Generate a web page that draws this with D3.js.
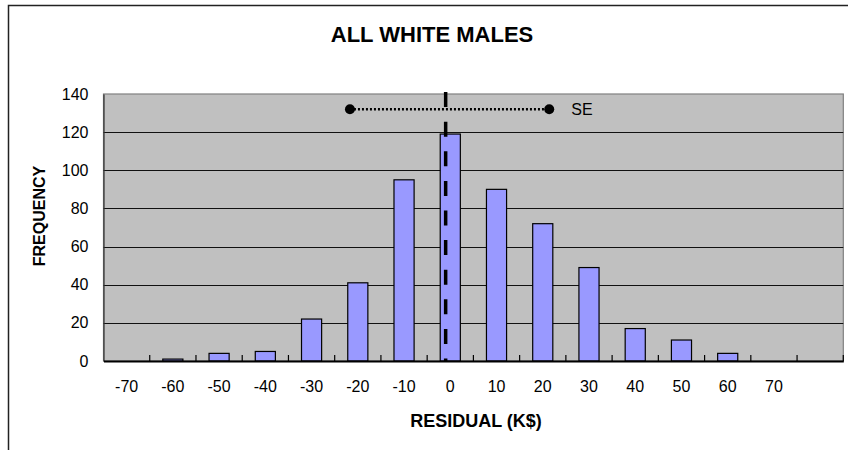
<!DOCTYPE html>
<html>
<head>
<meta charset="utf-8">
<script src="https://cdn.jsdelivr.net/npm/d3@7"></script>
<style>
  body { margin: 0; background: #fff; }
  svg { display: block; font-family: "Liberation Sans", Arial, sans-serif; }
</style>
</head>
<body>
<svg id="chart" width="848" height="450"></svg>
<script>
// ---- data ----
const categories = ["-70","-60","-50","-40","-30","-20","-10","0","10","20","30","40","50","60","70",""];
const frequency  = [0, 1, 4, 5, 22, 41, 95, 119, 90, 72, 49, 17, 11, 4, 0, 0];
const yTicks = [0, 20, 40, 60, 80, 100, 120, 140];
const meanResidual = -1;      // dashed vertical line (K$)
const meanLineTop = 141;      // frequency units
const seEnds = [-21.7, 21.4]; // SE bar ends (K$)
const seLevel = 132;          // frequency units
const seLabel = "SE";
const title = "ALL WHITE MALES";
const xTitle = "RESIDUAL (K$)";
const yTitle = "FREQUENCY";

// ---- layout ----
const W = 848, H = 450;
const plot = { left: 103.5, right: 843.3, top: 94, bottom: 361 };
const svg = d3.select("#chart");

// outer chart border
svg.append("rect").attr("x", 8.5).attr("y", 5.5).attr("width", 900).attr("height", 500)
  .attr("fill", "#fff").attr("stroke", "#222").attr("stroke-width", 1.5);

const xSlot = d3.scaleBand().domain(categories).range([plot.left, plot.right]).padding(0);
const xBar = d3.scaleBand().domain(categories).range([plot.left, plot.right])
  .paddingInner(0.565).paddingOuter(0.2825);
const xLin = d3.scaleLinear().domain([-75, 85]).range([plot.left, plot.right]);
const y = d3.scaleLinear().domain([0, 140]).range([plot.bottom, plot.top]);

// plot background
svg.append("rect").attr("x", plot.left).attr("y", plot.top)
  .attr("width", plot.right - plot.left).attr("height", plot.bottom - plot.top)
  .attr("fill", "#C0C0C0").attr("stroke", "#808080").attr("stroke-width", 1.2);

// gridlines
svg.append("g").selectAll("line").data(yTicks.filter(d => d > 0 && d < 140)).join("line")
  .attr("x1", plot.left).attr("x2", plot.right)
  .attr("y1", d => Math.round(y(d)) + 0.5).attr("y2", d => Math.round(y(d)) + 0.5)
  .attr("stroke", "#111").attr("stroke-width", 1);

// y axis
const yAxis = d3.axisLeft(y).tickValues(yTicks).tickSize(0).tickPadding(15);
const gy = svg.append("g").attr("transform", `translate(${plot.left},0)`).call(yAxis);
gy.select(".domain").attr("stroke", "#333").attr("stroke-width", 1.2);
gy.selectAll("text").attr("font-size", 16).attr("fill", "#000")
  .attr("font-family", "Liberation Sans, Arial, sans-serif");

// bars
svg.append("g").selectAll("rect").data(categories.map((c, i) => ({ c, v: frequency[i] })).filter(d => d.v > 0))
  .join("rect")
  .attr("x", d => xBar(d.c)).attr("width", xBar.bandwidth())
  .attr("y", d => y(d.v)).attr("height", d => y(0) - y(d.v))
  .attr("fill", "#9999FF").attr("stroke", "#000").attr("stroke-width", 1.2);

// x axis (category axis, ticks between categories)
const xAxis = d3.axisBottom(xSlot).tickSize(0).tickPadding(20);
const gx = svg.append("g").attr("transform", `translate(0,${plot.bottom})`).call(xAxis);
gx.select(".domain").attr("stroke", "#000").attr("stroke-width", 2);
gx.selectAll("text").attr("font-size", 16).attr("fill", "#000")
  .attr("font-family", "Liberation Sans, Arial, sans-serif");
svg.append("g").selectAll("line").data(categories.slice(1).concat(["__end"])).join("line")
  .attr("x1", d => d === "__end" ? plot.right : xSlot(d))
  .attr("x2", d => d === "__end" ? plot.right : xSlot(d))
  .attr("y1", plot.bottom - 6).attr("y2", plot.bottom)
  .attr("stroke", "#000").attr("stroke-width", 1.2);

// mean residual dashed line
svg.append("line")
  .attr("x1", xLin(meanResidual)).attr("x2", xLin(meanResidual))
  .attr("y1", y(meanLineTop)).attr("y2", y(0))
  .attr("stroke", "#000").attr("stroke-width", 3.5).attr("stroke-dasharray", "15,14.6");

// SE dotted line with end dots
svg.append("line")
  .attr("x1", xLin(seEnds[0])).attr("x2", xLin(seEnds[1]))
  .attr("y1", y(seLevel)).attr("y2", y(seLevel))
  .attr("stroke", "#000").attr("stroke-width", 2.5).attr("stroke-dasharray", "2,2");
svg.append("g").selectAll("circle").data(seEnds).join("circle")
  .attr("cx", d => xLin(d)).attr("cy", y(seLevel)).attr("r", 5).attr("fill", "#000");
svg.append("text").attr("x", xLin(seEnds[1]) + 22).attr("y", y(seLevel))
  .attr("dy", "0.36em").attr("font-size", 16).text(seLabel);

// titles
svg.append("text").attr("x", 432).attr("y", 42).attr("text-anchor", "middle")
  .attr("font-size", 22).attr("font-weight", "bold").text(title);
svg.append("text").attr("x", 476).attr("y", 427).attr("text-anchor", "middle")
  .attr("font-size", 18).attr("font-weight", "bold").text(xTitle);
svg.append("text").attr("transform", "translate(45,216) rotate(-90)").attr("text-anchor", "middle")
  .attr("font-size", 16).attr("font-weight", "bold").text(yTitle);
</script>
</body>
</html>
